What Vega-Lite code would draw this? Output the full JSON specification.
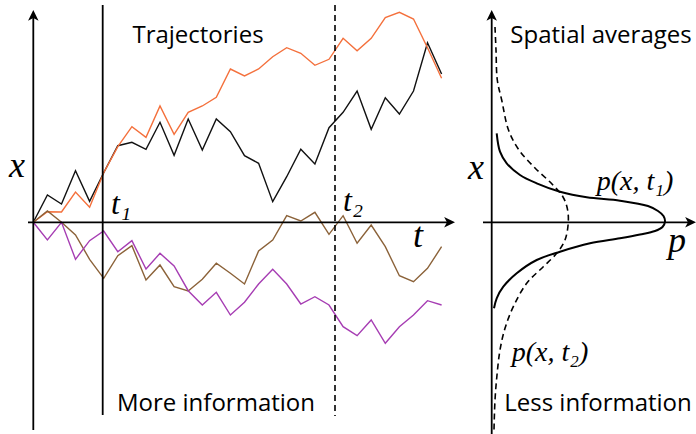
{
  "$schema": "https://vega.github.io/schema/vega-lite/v6.json",
  "width": 696,
  "height": 434,
  "autosize": "none",
  "padding": 0,
  "background": "white",
  "config": {"view": {"stroke": null}},
  "datasets": {
    "traj": [
      {"s":"black","k":0,"px":33.3,"py":222.3},{"s":"black","k":1,"px":47.4,"py":195},{"s":"black","k":2,"px":61.5,"py":204},{"s":"black","k":3,"px":75.5,"py":170.7},{"s":"black","k":4,"px":89.6,"py":201.3},{"s":"black","k":5,"px":103.7,"py":172.7},{"s":"black","k":6,"px":117.8,"py":145.7},{"s":"black","k":7,"px":131.9,"py":142.3},{"s":"black","k":8,"px":146.0,"py":149.3},{"s":"black","k":9,"px":160.0,"py":122.3},{"s":"black","k":10,"px":174.1,"py":155.3},{"s":"black","k":11,"px":188.2,"py":119},{"s":"black","k":12,"px":202.3,"py":150},{"s":"black","k":13,"px":216.3,"py":119},{"s":"black","k":14,"px":230.4,"py":131.7},{"s":"black","k":15,"px":244.5,"py":155.7},{"s":"black","k":16,"px":258.6,"py":163.3},{"s":"black","k":17,"px":272.7,"py":201.7},{"s":"black","k":18,"px":286.7,"py":176.7},{"s":"black","k":19,"px":300.8,"py":149.3},{"s":"black","k":20,"px":314.9,"py":164},{"s":"black","k":21,"px":329.0,"py":127.7},{"s":"black","k":22,"px":343.1,"py":112.3},{"s":"black","k":23,"px":357.1,"py":91},{"s":"black","k":24,"px":371.2,"py":129.3},{"s":"black","k":25,"px":385.3,"py":97.7},{"s":"black","k":26,"px":399.4,"py":114},{"s":"black","k":27,"px":413.5,"py":91},{"s":"black","k":28,"px":427.5,"py":42.7},{"s":"black","k":29,"px":441.6,"py":74},
      {"s":"orange","k":0,"px":33.3,"py":222.3},{"s":"orange","k":1,"px":47.4,"py":211.7},{"s":"orange","k":2,"px":61.5,"py":212},{"s":"orange","k":3,"px":75.5,"py":192},{"s":"orange","k":4,"px":89.6,"py":207.3},{"s":"orange","k":5,"px":103.7,"py":172.7},{"s":"orange","k":6,"px":117.8,"py":146.7},{"s":"orange","k":7,"px":131.9,"py":126.7},{"s":"orange","k":8,"px":146.0,"py":137.3},{"s":"orange","k":9,"px":160.0,"py":106},{"s":"orange","k":10,"px":174.1,"py":134.3},{"s":"orange","k":11,"px":188.2,"py":112.3},{"s":"orange","k":12,"px":202.3,"py":106},{"s":"orange","k":13,"px":216.3,"py":97.3},{"s":"orange","k":14,"px":230.4,"py":69},{"s":"orange","k":15,"px":244.5,"py":76},{"s":"orange","k":16,"px":258.6,"py":69},{"s":"orange","k":17,"px":272.7,"py":56.7},{"s":"orange","k":18,"px":286.7,"py":47.7},{"s":"orange","k":19,"px":300.8,"py":53.3},{"s":"orange","k":20,"px":314.9,"py":65.3},{"s":"orange","k":21,"px":329.0,"py":59.3},{"s":"orange","k":22,"px":343.1,"py":38.3},{"s":"orange","k":23,"px":357.1,"py":50.7},{"s":"orange","k":24,"px":371.2,"py":38.3},{"s":"orange","k":25,"px":385.3,"py":17.7},{"s":"orange","k":26,"px":399.4,"py":12.3},{"s":"orange","k":27,"px":413.5,"py":19},{"s":"orange","k":28,"px":427.5,"py":47.7},{"s":"orange","k":29,"px":441.6,"py":78.3},
      {"s":"brown","k":0,"px":33.3,"py":222.3},{"s":"brown","k":1,"px":47.4,"py":211},{"s":"brown","k":2,"px":61.5,"py":222.3},{"s":"brown","k":3,"px":75.5,"py":235},{"s":"brown","k":4,"px":89.6,"py":259.3},{"s":"brown","k":5,"px":103.7,"py":278.3},{"s":"brown","k":6,"px":117.8,"py":255.7},{"s":"brown","k":7,"px":131.9,"py":245.7},{"s":"brown","k":8,"px":146.0,"py":280},{"s":"brown","k":9,"px":160.0,"py":265},{"s":"brown","k":10,"px":174.1,"py":286.7},{"s":"brown","k":11,"px":188.2,"py":291},{"s":"brown","k":12,"px":202.3,"py":279.3},{"s":"brown","k":13,"px":216.3,"py":263.3},{"s":"brown","k":14,"px":230.4,"py":273.3},{"s":"brown","k":15,"px":244.5,"py":284},{"s":"brown","k":16,"px":258.6,"py":251},{"s":"brown","k":17,"px":272.7,"py":240},{"s":"brown","k":18,"px":286.7,"py":215.7},{"s":"brown","k":19,"px":300.8,"py":221},{"s":"brown","k":20,"px":314.9,"py":212.3},{"s":"brown","k":21,"px":329.0,"py":234.3},{"s":"brown","k":22,"px":343.1,"py":215.7},{"s":"brown","k":23,"px":357.1,"py":243.3},{"s":"brown","k":24,"px":371.2,"py":225},{"s":"brown","k":25,"px":385.3,"py":246.7},{"s":"brown","k":26,"px":399.4,"py":275.7},{"s":"brown","k":27,"px":413.5,"py":281.7},{"s":"brown","k":28,"px":427.5,"py":268.3},{"s":"brown","k":29,"px":441.6,"py":246.7},
      {"s":"purple","k":0,"px":33.3,"py":222.3},{"s":"purple","k":1,"px":47.4,"py":240},{"s":"purple","k":2,"px":61.5,"py":222.3},{"s":"purple","k":3,"px":75.5,"py":259.3},{"s":"purple","k":4,"px":89.6,"py":240.7},{"s":"purple","k":5,"px":103.7,"py":231},{"s":"purple","k":6,"px":117.8,"py":251.7},{"s":"purple","k":7,"px":131.9,"py":240.7},{"s":"purple","k":8,"px":146.0,"py":269},{"s":"purple","k":9,"px":160.0,"py":253.3},{"s":"purple","k":10,"px":174.1,"py":266},{"s":"purple","k":11,"px":188.2,"py":290.7},{"s":"purple","k":12,"px":202.3,"py":305},{"s":"purple","k":13,"px":216.3,"py":292.3},{"s":"purple","k":14,"px":230.4,"py":315},{"s":"purple","k":15,"px":244.5,"py":302.3},{"s":"purple","k":16,"px":258.6,"py":284},{"s":"purple","k":17,"px":272.7,"py":269.3},{"s":"purple","k":18,"px":286.7,"py":284},{"s":"purple","k":19,"px":300.8,"py":304},{"s":"purple","k":20,"px":314.9,"py":296.7},{"s":"purple","k":21,"px":329.0,"py":305},{"s":"purple","k":22,"px":343.1,"py":326.7},{"s":"purple","k":23,"px":357.1,"py":335.7},{"s":"purple","k":24,"px":371.2,"py":320},{"s":"purple","k":25,"px":385.3,"py":343.3},{"s":"purple","k":26,"px":399.4,"py":326.7},{"s":"purple","k":27,"px":413.5,"py":315},{"s":"purple","k":28,"px":427.5,"py":300.7},{"s":"purple","k":29,"px":441.6,"py":305}
    ],
    "rules": [
      {"px":33.3,"py":430,"px2":33.3,"py2":14},
      {"px":28,"py":222.3,"px2":450,"py2":222.3},
      {"px":102.7,"py":5,"px2":102.7,"py2":415},
      {"px":491.7,"py":434,"px2":491.7,"py2":14},
      {"px":483,"py":222.3,"px2":690,"py2":222.3}
    ],
    "dashrules": [
      {"px":335,"py":5,"px2":335,"py2":416}
    ],
    "upArrows": [
      {"px":33.3,"py":17},
      {"px":491.7,"py":17}
    ],
    "rightArrows": [
      {"px":448,"py":222.3},
      {"px":689,"py":222.3}
    ],
    "curve1": [
      {"k":0,"px":496.7,"py":133.3},{"k":1,"px":500,"py":151.7},{"k":2,"px":506.7,"py":163.3},{"k":3,"px":520,"py":175},{"k":4,"px":536.7,"py":183.3},{"k":5,"px":560,"py":191.7},{"k":6,"px":586.7,"py":197.3},{"k":7,"px":620,"py":200.7},{"k":8,"px":648,"py":206},{"k":9,"px":658,"py":211},{"k":10,"px":663.5,"py":216},{"k":11,"px":665,"py":221.7},{"k":12,"px":662.5,"py":227},{"k":13,"px":655,"py":231},{"k":14,"px":640,"py":234.5},{"k":15,"px":620,"py":238.3},{"k":16,"px":590,"py":243.3},{"k":17,"px":560,"py":251.7},{"k":18,"px":536.7,"py":260},{"k":19,"px":516.7,"py":273.3},{"k":20,"px":503.3,"py":286.7},{"k":21,"px":496.7,"py":298.3},{"k":22,"px":494,"py":308.3}
    ],
    "curve2": [
      {"k":0,"px":495,"py":27},{"k":1,"px":496,"py":50},{"k":2,"px":497.3,"py":80},{"k":3,"px":501.7,"py":100},{"k":4,"px":508.5,"py":130},{"k":5,"px":519,"py":150},{"k":6,"px":535,"py":168},{"k":7,"px":552,"py":184},{"k":8,"px":563,"py":197},{"k":9,"px":567.3,"py":208.3},{"k":10,"px":568.3,"py":221.7},{"k":11,"px":565,"py":240},{"k":12,"px":556.7,"py":253.3},{"k":13,"px":543.3,"py":266.7},{"k":14,"px":526.7,"py":283.3},{"k":15,"px":513.3,"py":306.7},{"k":16,"px":505,"py":328.3},{"k":17,"px":500,"py":350},{"k":18,"px":497,"py":375},{"k":19,"px":495,"py":400},{"k":20,"px":494,"py":430}
    ],
    "sansText": [
      {"px":198,"py":43,"label":"Trajectories"},
      {"px":216,"py":411,"label":"More information"},
      {"px":601,"py":43,"label":"Spatial averages"},
      {"px":598,"py":411,"label":"Less information"}
    ],
    "mathBig": [
      {"px":17,"py":166,"label":"x"},
      {"px":476,"py":168,"label":"x"},
      {"px":418,"py":236,"label":"t"},
      {"px":677,"py":241,"label":"p"}
    ],
    "mathSub": [
      {"px":121,"py":204,"label":"t₁"},
      {"px":353,"py":201,"label":"t₂"}
    ],
    "mathFn": [
      {"px":635,"py":182,"label":"p(x, t₁)"},
      {"px":550,"py":353,"label":"p(x, t₂)"}
    ]
  },
  "encoding": {
    "x": {"field": "px", "type": "quantitative", "scale": {"domain": [0, 696], "nice": false, "zero": false}, "axis": null},
    "y": {"field": "py", "type": "quantitative", "scale": {"domain": [0, 434], "nice": false, "zero": false, "reverse": true}, "axis": null}
  },
  "layer": [
    {
      "data": {"name": "traj"},
      "mark": {"type": "line", "strokeWidth": 1.4, "clip": false},
      "encoding": {
        "color": {"field": "s", "type": "nominal", "legend": null,
          "scale": {"domain": ["black", "orange", "brown", "purple"], "range": ["#111111", "#F4703C", "#8B6239", "#A63DB3"]}},
        "order": {"field": "k", "type": "quantitative"}
      }
    },
    {
      "data": {"name": "rules"},
      "mark": {"type": "rule", "color": "black", "strokeWidth": 1.8},
      "encoding": {"x2": {"field": "px2"}, "y2": {"field": "py2"}}
    },
    {
      "data": {"name": "dashrules"},
      "mark": {"type": "rule", "color": "black", "strokeWidth": 1.6, "strokeDash": [6, 4]},
      "encoding": {"x2": {"field": "px2"}, "y2": {"field": "py2"}}
    },
    {
      "data": {"name": "upArrows"},
      "mark": {"type": "point", "filled": true, "color": "black", "opacity": 1, "strokeWidth": 0, "size": 196, "shape": "M0,-1L0.75,0.55L0,0.15L-0.75,0.55Z"}
    },
    {
      "data": {"name": "rightArrows"},
      "mark": {"type": "point", "filled": true, "color": "black", "opacity": 1, "strokeWidth": 0, "size": 196, "shape": "M1,0L-0.55,-0.75L-0.15,0L-0.55,0.75Z"}
    },
    {
      "data": {"name": "curve1"},
      "mark": {"type": "line", "color": "black", "strokeWidth": 2, "interpolate": "catmull-rom"},
      "encoding": {"order": {"field": "k", "type": "quantitative"}}
    },
    {
      "data": {"name": "curve2"},
      "mark": {"type": "line", "color": "black", "strokeWidth": 1.6, "strokeDash": [6, 4], "interpolate": "catmull-rom"},
      "encoding": {"order": {"field": "k", "type": "quantitative"}}
    },
    {
      "data": {"name": "sansText"},
      "mark": {"type": "text", "font": "Open Sans", "fontSize": 24, "color": "black", "align": "center", "baseline": "alphabetic"},
      "encoding": {"text": {"field": "label"}}
    },
    {
      "data": {"name": "mathBig"},
      "mark": {"type": "text", "font": "Liberation Serif", "fontStyle": "italic", "fontSize": 36, "color": "black", "align": "center", "baseline": "middle"},
      "encoding": {"text": {"field": "label"}}
    },
    {
      "data": {"name": "mathSub"},
      "mark": {"type": "text", "font": "Liberation Serif", "fontStyle": "italic", "fontSize": 32, "color": "black", "align": "center", "baseline": "middle"},
      "encoding": {"text": {"field": "label"}}
    },
    {
      "data": {"name": "mathFn"},
      "mark": {"type": "text", "font": "Liberation Serif", "fontStyle": "italic", "fontSize": 28, "color": "black", "align": "center", "baseline": "middle"},
      "encoding": {"text": {"field": "label"}}
    }
  ]
}
